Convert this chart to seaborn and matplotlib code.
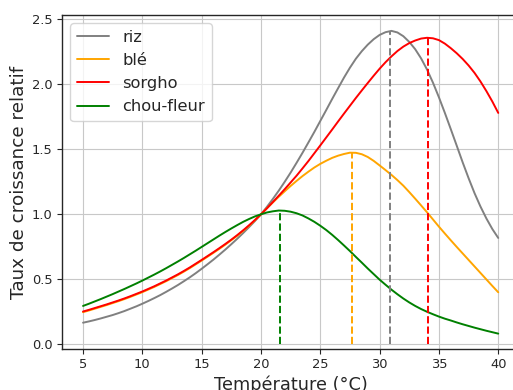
import numpy as np
import pandas as pd
import matplotlib
matplotlib.use("Agg")
import matplotlib.pyplot as plt
import seaborn as sns

# Températures (pas de 0,5 °C, de 5 à 40 °C)
temperatures = [5 + 0.5 * i for i in range(71)]

riz = [0.166, 0.176, 0.187, 0.199, 0.212, 0.225, 0.240, 0.256, 0.274, 0.292,
       0.312, 0.333, 0.355, 0.378, 0.403, 0.429, 0.456, 0.485, 0.515, 0.547,
       0.581, 0.616, 0.652, 0.690, 0.729, 0.770, 0.812, 0.856, 0.902, 0.949,
       1.000, 1.057, 1.118, 1.182, 1.250, 1.321, 1.396, 1.473, 1.553, 1.634,
       1.718, 1.802, 1.887, 1.970, 2.052, 2.128, 2.197, 2.255, 2.305, 2.347,
       2.380, 2.401, 2.411, 2.399, 2.370, 2.326, 2.270, 2.199, 2.113, 2.012,
       1.900, 1.780, 1.655, 1.528, 1.400, 1.278, 1.163, 1.060, 0.968, 0.887,
       0.818]

ble = [0.247, 0.260, 0.274, 0.288, 0.302, 0.317, 0.332, 0.348, 0.365, 0.383,
       0.401, 0.421, 0.441, 0.463, 0.485, 0.509, 0.533, 0.559, 0.586, 0.615,
       0.644, 0.674, 0.704, 0.735, 0.767, 0.801, 0.835, 0.873, 0.912, 0.955,
       1.000, 1.046, 1.091, 1.135, 1.177, 1.218, 1.257, 1.294, 1.328, 1.360,
       1.388, 1.412, 1.434, 1.451, 1.464, 1.474, 1.473, 1.462, 1.441, 1.411,
       1.376, 1.340, 1.303, 1.263, 1.220, 1.171, 1.120, 1.068, 1.015, 0.960,
       0.905, 0.852, 0.800, 0.749, 0.699, 0.649, 0.599, 0.549, 0.499, 0.449,
       0.400]

sorgho = [0.252, 0.265, 0.279, 0.293, 0.307, 0.322, 0.337, 0.353, 0.370, 0.388,
          0.406, 0.426, 0.446, 0.468, 0.490, 0.514, 0.538, 0.564, 0.591, 0.620,
          0.649, 0.679, 0.709, 0.740, 0.772, 0.805, 0.840, 0.877, 0.916, 0.957,
          1.000, 1.046, 1.094, 1.143, 1.193, 1.245, 1.297, 1.353, 1.410, 1.470,
          1.530, 1.591, 1.652, 1.714, 1.775, 1.835, 1.895, 1.953, 2.010, 2.066,
          2.120, 2.170, 2.215, 2.256, 2.290, 2.317, 2.337, 2.352, 2.358, 2.354,
          2.340, 2.313, 2.278, 2.239, 2.195, 2.145, 2.088, 2.022, 1.948, 1.868,
          1.780]

chou_fleur = [0.295, 0.312, 0.330, 0.348, 0.367, 0.386, 0.406, 0.426, 0.447, 0.468,
              0.490, 0.513, 0.536, 0.560, 0.585, 0.611, 0.637, 0.664, 0.692, 0.720,
              0.749, 0.778, 0.807, 0.836, 0.864, 0.891, 0.917, 0.942, 0.964, 0.984,
              1.000, 1.014, 1.023, 1.029, 1.027, 1.020, 1.008, 0.991, 0.968, 0.942,
              0.912, 0.879, 0.842, 0.802, 0.760, 0.717, 0.672, 0.628, 0.583, 0.540,
              0.497, 0.458, 0.420, 0.385, 0.352, 0.322, 0.295, 0.271, 0.250, 0.231,
              0.213, 0.197, 0.183, 0.168, 0.154, 0.141, 0.128, 0.116, 0.104, 0.093,
              0.082]

cultures = ['riz', 'blé', 'sorgho', 'chou-fleur']
couleurs = ['gray', 'orange', 'red', 'green']
series = [riz, ble, sorgho, chou_fleur]

# Optimum de chaque culture (lignes pointillées)
t_optimum = [30.87, 27.7, 34.1, 21.6]
taux_optimum = [2.413, 1.477, 2.359, 1.030]

# Table longue pour seaborn
frames = []
for nom, valeurs in zip(cultures, series):
    frames.append(pd.DataFrame({'Culture': nom,
                                'Temperature': temperatures,
                                'Taux': valeurs}))
df = pd.concat(frames, ignore_index=True)

sns.set_style("ticks", {"axes.grid": True, "grid.color": "#c8c8c8"})
plt.rcParams['font.family'] = ['DejaVu Sans']

fig = plt.figure(figsize=(5.13, 3.9), dpi=100)
ax = fig.add_axes([0.1214, 0.1059, 0.8903, 0.8549])

sns.lineplot(data=df, x='Temperature', y='Taux', hue='Culture',
             hue_order=cultures, palette=couleurs, linewidth=1.4,
             estimator=None, sort=True, ax=ax)

for t_opt, v_opt, c in zip(t_optimum, taux_optimum, couleurs):
    ax.vlines(t_opt, 0, v_opt, colors=c, linestyles='--', linewidth=1.4)

for cote in ['top', 'right', 'left', 'bottom']:
    ax.spines[cote].set_visible(True)
    ax.spines[cote].set_linewidth(1.0)

ax.set_xlim(3.25, 41.75)
ax.set_ylim(-0.034, 2.531)
ax.set_xticks([5, 10, 15, 20, 25, 30, 35, 40])
ax.set_yticks([0.0, 0.5, 1.0, 1.5, 2.0, 2.5])
ax.tick_params(labelsize=9.4)
ax.set_xlabel('Température (°C)', fontsize=12.8, labelpad=3)
ax.set_ylabel('Taux de croissance relatif', fontsize=13.2, labelpad=3)
ax.legend(title=None, loc='upper left', fontsize=11.7)

plt.savefig('out.png', dpi=100)
